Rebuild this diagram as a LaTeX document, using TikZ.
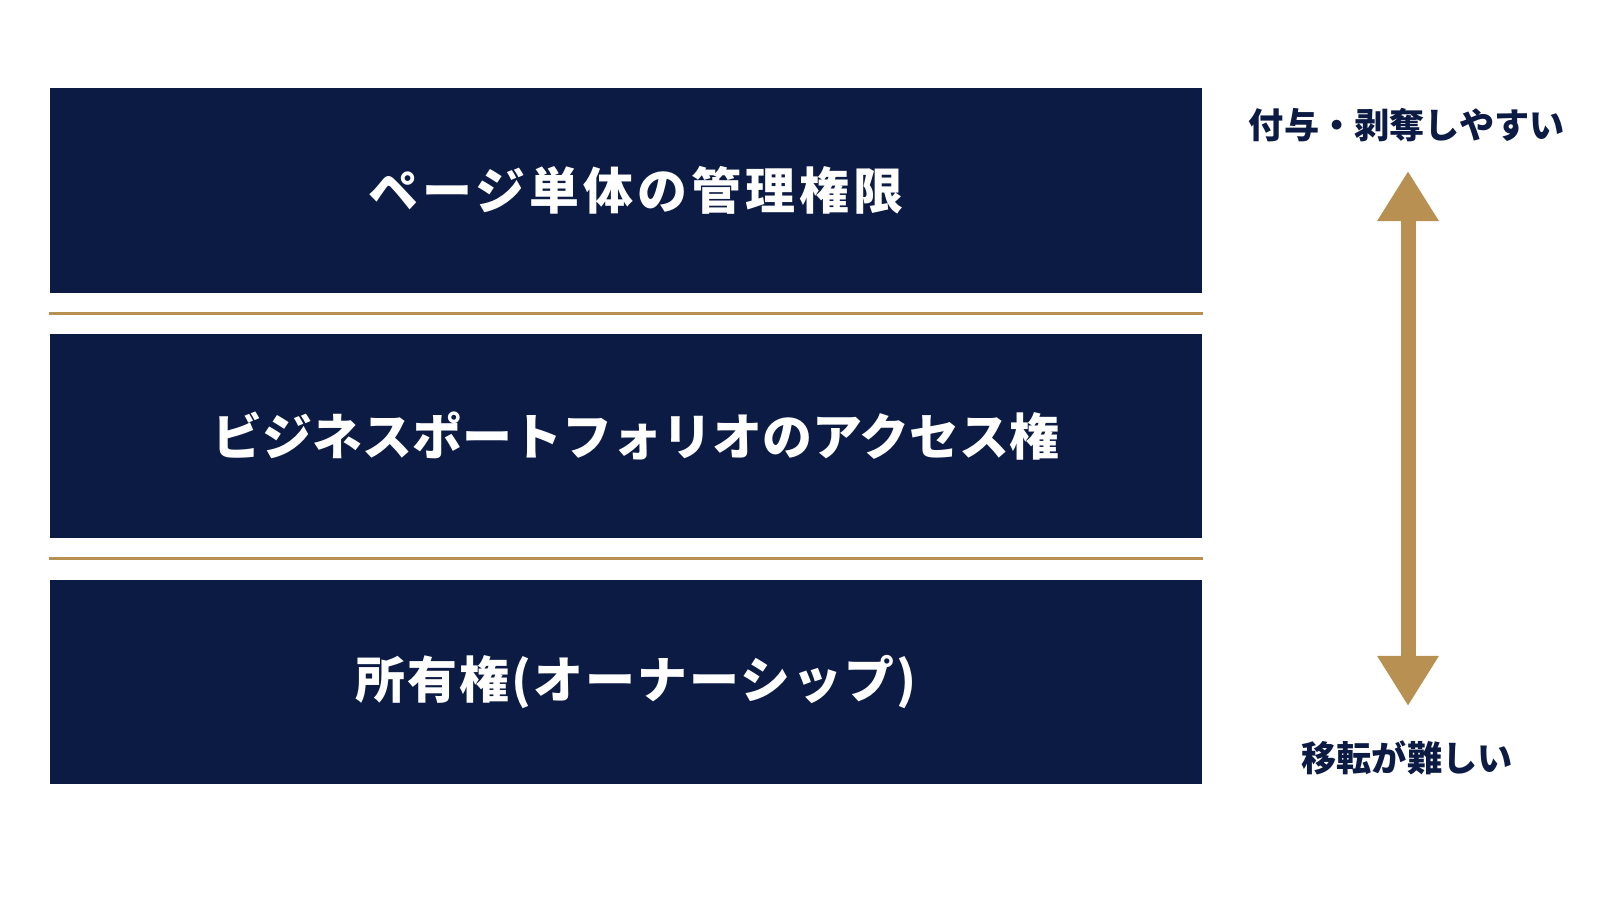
\documentclass[tikz,border=0pt]{standalone}
\usepackage{fontspec}
\newfontfamily\jp{Noto Sans CJK JP}
\usetikzlibrary{calc,arrows.meta}
\definecolor{navy}{RGB}{12,27,68}
\definecolor{gold}{RGB}{184,145,82}

\begin{document}
\begin{tikzpicture}[x=0.01cm,y=0.01cm,
    layer/.style={fill=navy,text=white,minimum width=11.52cm,minimum height=2.04cm,inner sep=0pt,
        font=\jp\bfseries\fontsize{14.2pt}{17pt}\selectfont\addfontfeature{LetterSpace=#1},
        execute at begin node=\hspace{0.2cm}},
    layer/.default=0,
    side/.style={text=navy,inner sep=0pt,font=\jp\bfseries\fontsize{10pt}{12pt}\selectfont},
    goldtip/.tip={Triangle[width=0.58cm,length=0.5cm]}]
    \fill[white] (0,0) rectangle (1600,900);
    \node[layer=8] (page) at (626,709.5) {ページ単体の管理権限};
    \node[layer]   (port) at (626,464)   {ビジネスポートフォリオのアクセス権};
    \node[layer=4] (own)  at (626,218)   {所有権(オーナーシップ)};
    \draw[gold, line width=0.03cm] ($(page.south west)!0.5!(port.north west)$) -- ($(page.south east)!0.5!(port.north east)$);
    \draw[gold, line width=0.03cm] ($(port.south west)!0.5!(own.north west)$)  -- ($(port.south east)!0.5!(own.north east)$);
    \node[side] (easy) at (1407,775) {付与・剥奪しやすい};
    \node[side] (hard) at (1407,142) {移転が難しい};
    \coordinate (up) at (1408,729);   \coordinate (down) at (1408,194);
    \draw[gold, line width=0.15cm, goldtip-goldtip] (down) -- (up);
\end{tikzpicture}
\end{document}
